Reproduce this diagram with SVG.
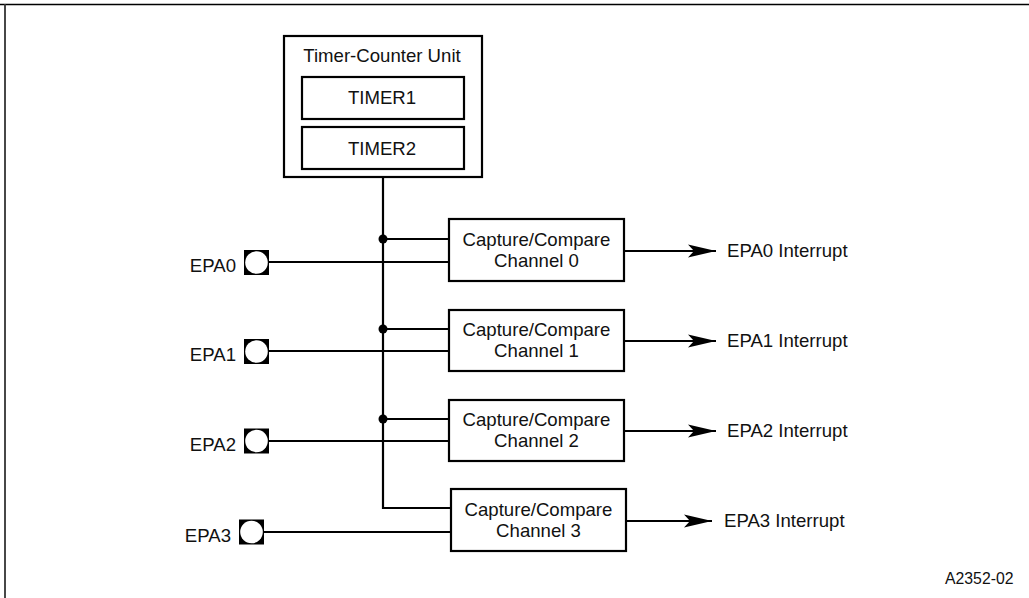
<svg xmlns="http://www.w3.org/2000/svg" width="1029" height="598" viewBox="0 0 1029 598">
<style>
.t{font-family:"Liberation Sans",Arial,sans-serif;font-size:18.6px;fill:#111}
.box{fill:#fff;stroke:#000;stroke-width:2.2}
.ln{fill:none;stroke:#000;stroke-width:2.2}
.c{text-anchor:middle}
.e{text-anchor:end}
</style>
<defs>
<marker id="ah" markerUnits="userSpaceOnUse" markerWidth="30" markerHeight="14" refX="28" refY="7" orient="auto">
<path d="M0,0.5 L28,7 L0,13.5 L6,7 z" fill="#000"/>
</marker>
<g id="pad">
<rect x="-12.5" y="-12.5" width="25" height="25" fill="#000"/>
<circle cx="0" cy="0" r="11.3" fill="#fff"/>
</g>
</defs>
<rect width="1029" height="598" fill="#fff"/>
<g id="frame">
<line x1="0" y1="4.5" x2="1029" y2="4.5" stroke="#000" stroke-width="1.6"/>
<line x1="5" y1="4" x2="5" y2="598" stroke="#333" stroke-width="1.8"/>
</g>
<g id="connectors">
<path class="ln" d="M383,177 V508 H451"/>
<path class="ln" d="M383,239 H449 M383,329 H449 M383,419 H449"/>
<path class="ln" d="M268,262 H449 M268,351 H449 M268,441 H449 M263,532 H451"/>
<circle cx="383" cy="239" r="4.5"/>
<circle cx="383" cy="329" r="4.5"/>
<circle cx="383" cy="419" r="4.5"/>
<path class="ln" d="M624,251 H716" marker-end="url(#ah)"/>
<path class="ln" d="M624,341 H716" marker-end="url(#ah)"/>
<path class="ln" d="M624,431 H716" marker-end="url(#ah)"/>
<path class="ln" d="M626,521 H712" marker-end="url(#ah)"/>
</g>
<g id="tcu">
<rect class="box" x="284" y="36" width="198" height="141"/>
<text class="t c" x="382" y="62">Timer-Counter Unit</text>
</g>
<g id="timer1">
<rect class="box" x="302" y="77" width="162" height="42"/>
<text class="t c" x="382" y="104">TIMER1</text>
</g>
<g id="timer2">
<rect class="box" x="302" y="127" width="162" height="42"/>
<text class="t c" x="382" y="155">TIMER2</text>
</g>
<g id="ch0">
<rect class="box" x="449" y="219" width="175" height="62"/>
<text class="t c" x="536.5" y="246">Capture/Compare</text>
<text class="t c" x="536.5" y="267">Channel 0</text>
</g>
<g id="ch1">
<rect class="box" x="449" y="310" width="175" height="61"/>
<text class="t c" x="536.5" y="336">Capture/Compare</text>
<text class="t c" x="536.5" y="357">Channel 1</text>
</g>
<g id="ch2">
<rect class="box" x="449" y="400" width="175" height="61"/>
<text class="t c" x="536.5" y="426">Capture/Compare</text>
<text class="t c" x="536.5" y="447">Channel 2</text>
</g>
<g id="ch3">
<rect class="box" x="451" y="489" width="175" height="62"/>
<text class="t c" x="538.5" y="516">Capture/Compare</text>
<text class="t c" x="538.5" y="537">Channel 3</text>
</g>
<g id="epa0">
<use href="#pad" x="256.5" y="262.5"/>
<text class="t e" x="236" y="272">EPA0</text>
</g>
<g id="epa1">
<use href="#pad" x="256.5" y="351.5"/>
<text class="t e" x="236" y="361">EPA1</text>
</g>
<g id="epa2">
<use href="#pad" x="256.5" y="441"/>
<text class="t e" x="236" y="450.5">EPA2</text>
</g>
<g id="epa3">
<use href="#pad" x="251.5" y="532"/>
<text class="t e" x="231" y="541.5">EPA3</text>
</g>
<g id="int0"><text class="t" x="727" y="257">EPA0 Interrupt</text></g>
<g id="int1"><text class="t" x="727" y="347">EPA1 Interrupt</text></g>
<g id="int2"><text class="t" x="727" y="437">EPA2 Interrupt</text></g>
<g id="int3"><text class="t" x="724" y="527">EPA3 Interrupt</text></g>
<g id="ref"><text class="t" x="945" y="584" style="font-size:15.8px">A2352-02</text></g>
</svg>
